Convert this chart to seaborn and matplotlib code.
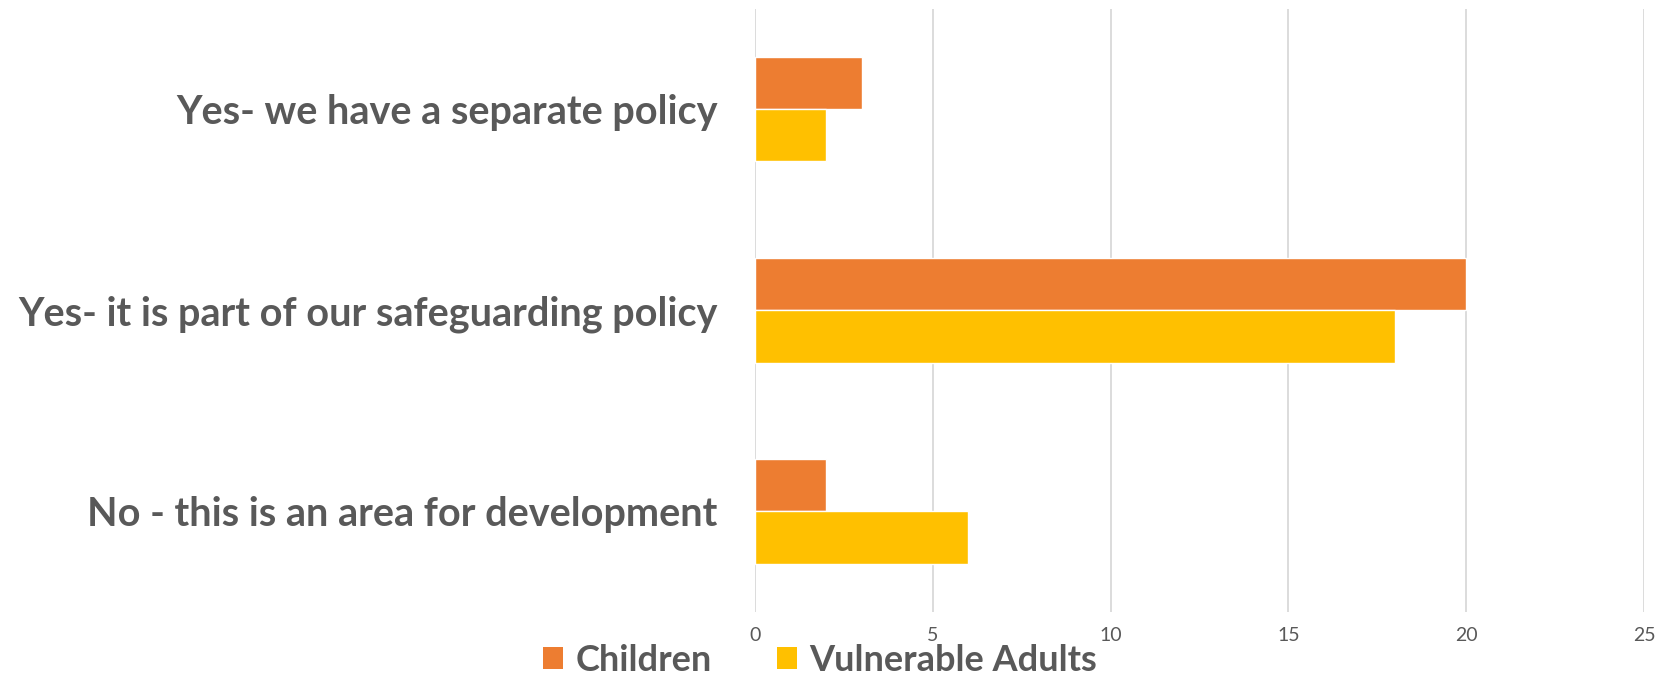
import matplotlib
matplotlib.use("Agg")
import matplotlib.pyplot as plt
import seaborn as sns
import pandas as pd
from matplotlib.patches import Patch

categories = [
    "Yes- we have a separate policy",
    "Yes- it is part of our safeguarding policy",
    "No - this is an area for development",
]
series_names = ["Children", "Vulnerable Adults"]
children = [3, 20, 2]
vulnerable_adults = [2, 18, 6]
x_ticks = [0, 5, 10, 15, 20, 25]

colors = {"Children": "#ED7D31", "Vulnerable Adults": "#FFC000"}
text_gray = "#595959"
grid_gray = "#D9D9D9"

df = pd.DataFrame({
    "category": categories * 2,
    "group": [series_names[0]] * 3 + [series_names[1]] * 3,
    "value": children + vulnerable_adults,
})

sns.set_theme(style="white")
plt.rcParams["font.family"] = ["Lato", "DejaVu Sans"]

fig = plt.figure(figsize=(16.6, 6.8), dpi=100)
ax = fig.add_axes([0.4548, 0.1, 0.5356, 0.8875])

sns.barplot(
    data=df, y="category", x="value", hue="group",
    order=categories, hue_order=series_names,
    palette=colors, orient="h", width=0.52,
    saturation=1, legend=False, ax=ax,
)

ax.set_xlim(0, 25)
ax.set_ylim(2.5, -0.5)
ax.set_xticks(x_ticks)
ax.set_xticklabels([str(t) for t in x_ticks], fontsize=14, color=text_gray)
ax.tick_params(axis="x", length=0, pad=11)
ax.tick_params(axis="y", length=0, pad=27)
for lbl in ax.get_yticklabels():
    lbl.set_fontsize(28.5)
    lbl.set_fontweight("bold")
    lbl.set_color(text_gray)
ax.set_xlabel("")
ax.set_ylabel("")
ax.grid(axis="x", color=grid_gray, linewidth=1.3)
ax.set_axisbelow(True)
for s in ax.spines.values():
    s.set_visible(False)

handles = [Patch(facecolor=colors[n], edgecolor="none", label=n) for n in series_names]
fig.legend(
    handles=handles, loc="center", bbox_to_anchor=(0.494, 0.029),
    ncol=2, frameon=False, borderpad=0.2,
    handlelength=0.55, handleheight=0.55, handletextpad=0.35,
    columnspacing=1.8, labelcolor=text_gray,
    prop={"weight": "bold", "size": 26},
)

fig.savefig("out.png", dpi=100)
